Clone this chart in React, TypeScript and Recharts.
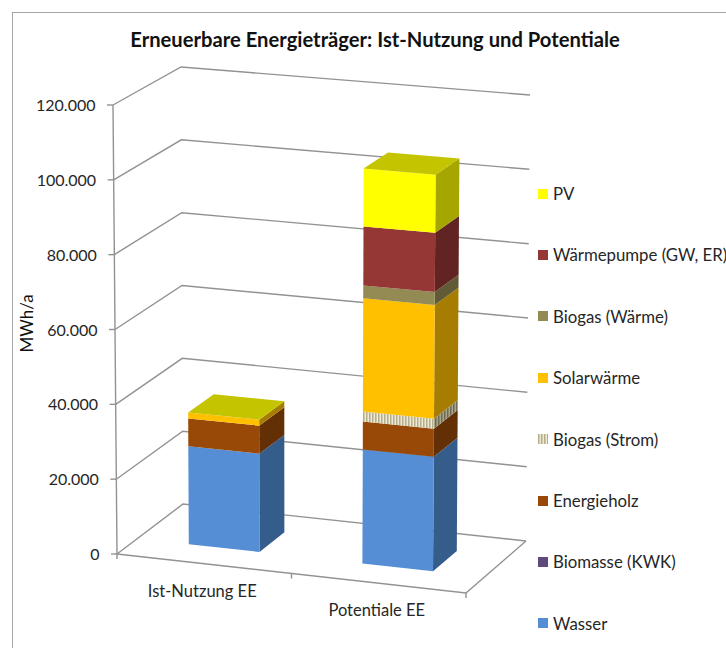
import React from "react";
import { BarChart, Bar, XAxis, YAxis, CartesianGrid, Legend } from "recharts";

const FONT = "Lato, 'Open Sans', sans-serif";
const TEXT = "#262626";
const LINE = "#929292";

const categories = ["Ist-Nutzung EE", "Potentiale EE"];
const yTicks = [0, 20000, 40000, 60000, 80000, 100000, 120000];

const wasser = [26300, 30300];
const biomasse = [0, 0];
const energieholz = [7500, 7450];
const biogasStrom = [0, 2650];
const solarwaerme = [1600, 30100];
const biogasWaerme = [0, 3450];
const waermepumpe = [0, 15700];
const pv = [0, 15400];

const seriesNames = ["Wasser", "Biomasse (KWK)", "Energieholz", "Biogas (Strom)", "Solarwärme", "Biogas (Wärme)", "Wärmepumpe (GW, ER)", "PV"];
const seriesValues = [wasser, biomasse, energieholz, biogasStrom, solarwaerme, biogasWaerme, waermepumpe, pv];
const frontColors = ["#558ed5", "#604a7b", "#984807", "url(#hatchFront)", "#ffc000", "#948a54", "#953735", "#ffff00"];
const sideColors = ["#355d8c", "#3f3051", "#632f04", "url(#hatchSide)", "#a67d00", "#615a37", "#612423", "#a6a600"];
const topColor = "#c4c400";

const data = categories.map((name, i) => {
  const row: any = { name };
  seriesNames.forEach((s, k) => {
    row[s] = seriesValues[k][i];
  });
  return row;
});

// flat plot rectangle that recharts scales into
const PLOT_LEFT = 117;
const PLOT_TOP = 105;
const PLOT_W = 349;
const PLOT_H = 449;

// corners of the 3d box: front/back, left/right, bottom/top
const FLB = [117, 554];
const FRB = [466, 593];
const BLB = [183, 504];
const BRB = [526, 541];
const FLT = [113, 105];
const FRT = [470, 135];
const BLT = [181, 67];
const BRT = [530, 95];

const BAR_D0 = 0.31;
const BAR_D1 = 0.7;

const lerp = (a: number[], b: number[], t: number) => [a[0] + (b[0] - a[0]) * t, a[1] + (b[1] - a[1]) * t];

const project = (u: number, d: number, v: number) => {
  const bottom = lerp(lerp(FLB, FRB, u), lerp(BLB, BRB, u), d);
  const top = lerp(lerp(FLT, FRT, u), lerp(BLT, BRT, u), d);
  return lerp(bottom, top, v);
};

const toU = (x: number) => (x - PLOT_LEFT) / PLOT_W;
const toV = (y: number) => (PLOT_TOP + PLOT_H - y) / PLOT_H;
const pts = (list: number[][]) => list.map((p) => `${p[0].toFixed(1)},${p[1].toFixed(1)}`).join(" ");

const Box3D = ({ x, y, width, height, fill, side, withTop }: any) => {
  const u0 = toU(x);
  const u1 = toU(x + width);
  const v0 = toV(y + height);
  const v1 = toV(y);
  return (
    <g>
      <polygon fill={side} points={pts([project(u1, BAR_D0, v0), project(u1, BAR_D1, v0), project(u1, BAR_D1, v1), project(u1, BAR_D0, v1)])} />
      <polygon fill={fill} points={pts([project(u0, BAR_D0, v0), project(u1, BAR_D0, v0), project(u1, BAR_D0, v1), project(u0, BAR_D0, v1)])} />
      {withTop && <polygon fill={topColor} points={pts([project(u0, BAR_D0, v1), project(u1, BAR_D0, v1), project(u1, BAR_D1, v1), project(u0, BAR_D1, v1)])} />}
    </g>
  );
};

const GridLine3D = ({ y1 }: any) => {
  const v = toV(y1);
  const a = project(0, 0, v);
  const b = project(0, 1, v);
  const c = project(1, 1, v);
  const isFloor = Math.abs(v) < 0.001;
  return (
    <g fill="none" stroke={LINE} strokeWidth={1.4}>
      <polyline points={pts([a, b, c])} />
      <line x1={a[0] - 6} y1={a[1]} x2={a[0]} y2={a[1]} />
      {isFloor && (
        <>
          <polyline points={pts([c, project(1, 0, 0), a])} />
          <polyline points={pts([a, project(0, 0, 1)])} />
          {[0, 0.5, 1].map((u) => {
            const p = project(u, 0, 0);
            return <line key={u} x1={p[0]} y1={p[1]} x2={p[0]} y2={p[1] + 5} />;
          })}
        </>
      )}
    </g>
  );
};

// value labels follow the slightly tilted front edge
const ValueTick = ({ y, payload }: any) => {
  const p = project(0, 0, toV(y));
  return (
    <text x={p[0] - 17.5} y={y + 6} textAnchor="end" fontSize={16} fontFamily={FONT} fill={TEXT}>
      {payload.value.toLocaleString("de-DE")}
    </text>
  );
};

const CategoryTick = ({ x, payload }: any) => {
  const p = project(toU(x), 0, 0);
  return (
    <text x={p[0] - 2} y={p[1] + 33} textAnchor="middle" fontSize={16.5} fontFamily={FONT} fill={TEXT}>
      {payload.value}
    </text>
  );
};

const LegendList = ({ payload }: any) => (
  <div style={{ width: 0, height: 0 }}>
    {[...(payload || [])].reverse().map((item: any, i: number) => (
      <div key={item.value} style={{ position: "absolute", left: 538, top: 193.5 + i * 61.4 - 10, height: 20, width: 200, whiteSpace: "nowrap", display: "flex", alignItems: "center", fontFamily: FONT, fontSize: 16.8, color: TEXT }}>
        <svg width={10} height={10} style={{ marginRight: 5, flex: "none" }}>
          <rect width={10} height={10} fill={item.color} />
        </svg>
        {item.value}
      </div>
    ))}
  </div>
);

export default function App() {
  return (
    <div style={{ position: "absolute", left: 0, top: 0, width: 726, height: 648, overflow: "hidden", background: "#fff" }}>
      <div style={{ position: "absolute", left: 12, top: 12, width: 800, height: 800, border: "1.5px solid #a6a6a6" }} />
      <div style={{ position: "absolute", left: 0, top: 27, width: 750, textAlign: "center", fontFamily: FONT, fontWeight: 700, fontSize: 20.2, color: "#111", lineHeight: "24px" }}>
        Erneuerbare Energieträger: Ist-Nutzung und Potentiale
      </div>
      <div style={{ position: "absolute", left: 0, top: 0 }}>
        <BarChart
          width={726}
          height={648}
          data={data}
          barCategoryGap="29.6%"
          margin={{ top: PLOT_TOP, left: PLOT_LEFT - 60, right: 726 - PLOT_LEFT - PLOT_W, bottom: 648 - PLOT_TOP - PLOT_H - 40 }}
        >
          <defs>
            <pattern id="hatchFront" width={3} height={3} patternUnits="userSpaceOnUse">
              <rect width={3} height={3} fill="#ece9d8" />
              <rect width={1.5} height={3} fill="#b5ae86" />
            </pattern>
            <pattern id="hatchSide" width={3} height={3} patternUnits="userSpaceOnUse">
              <rect width={3} height={3} fill="#a8a58f" />
              <rect width={1.5} height={3} fill="#6f6b4f" />
            </pattern>
          </defs>
          <CartesianGrid vertical={false} horizontal={(p: any) => <GridLine3D key={p.y1} y1={p.y1} />} />
          <XAxis dataKey="name" axisLine={false} tickLine={false} height={40} tick={<CategoryTick />} />
          <YAxis
            width={60}
            domain={[0, 120000]}
            ticks={yTicks}
            axisLine={false}
            tickLine={false}
            tick={<ValueTick />}
            label={{ value: "MWh/a", angle: -90, position: "insideLeft", offset: 0, dx: -30, dy: 23, fontSize: 17, fontFamily: FONT, fill: "#111" }}
          />
          {seriesNames.map((s, k) => (
            <Bar
              key={s}
              dataKey={s}
              name={s}
              stackId="a"
              fill={frontColors[k]}
              isAnimationActive={false}
              shape={(p: any) => <Box3D {...p} side={sideColors[k]} withTop={k === seriesNames.length - 1} />}
            />
          ))}
          <Legend content={<LegendList />} itemSorter={null} wrapperStyle={{ left: 0, top: 0, width: 0, height: 0 }} />
        </BarChart>
      </div>
    </div>
  );
}
